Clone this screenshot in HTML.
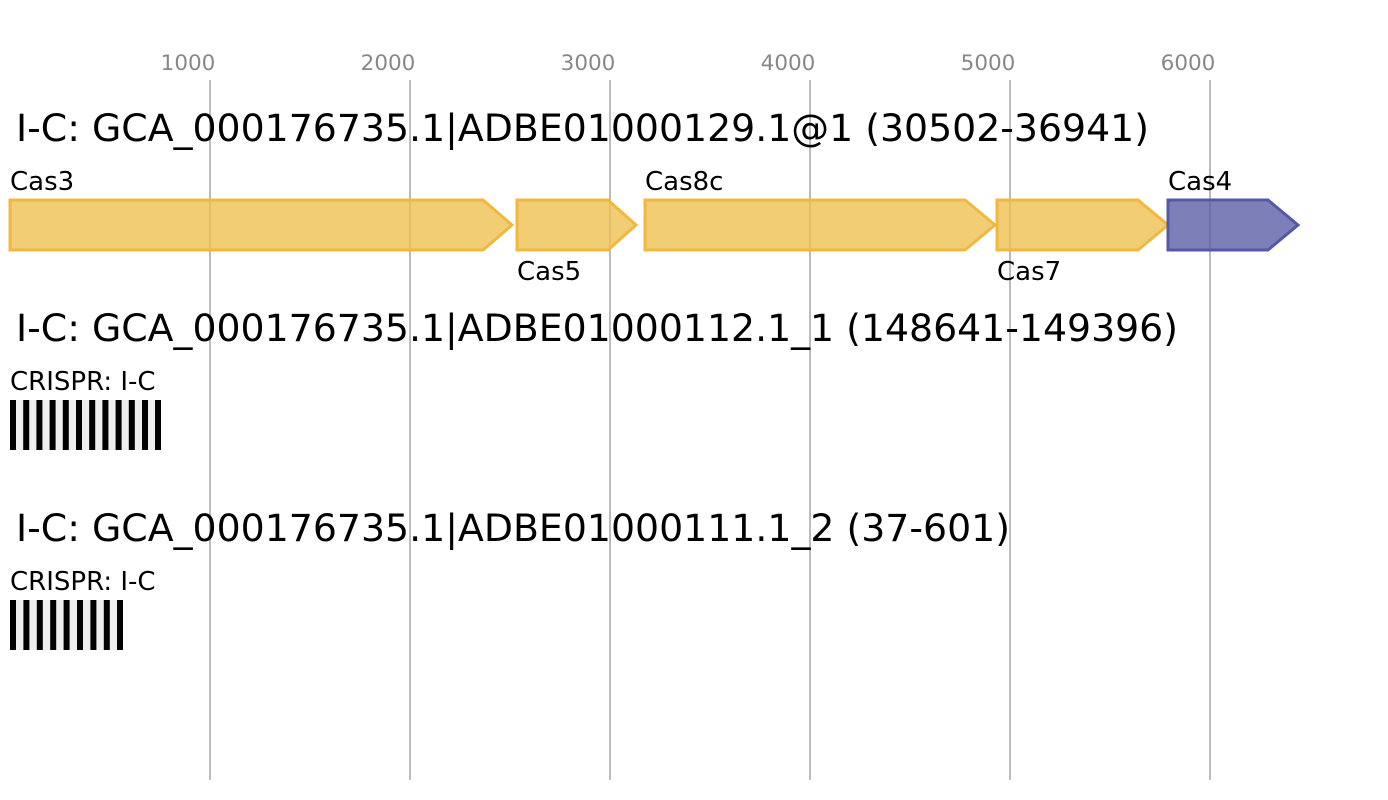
<!DOCTYPE html>
<html><head><style>body{margin:0;background:#fff}svg{display:block}text{font-family:"DejaVu Sans","Liberation Sans",sans-serif}</style></head><body>
<svg width="1388" height="800" xmlns="http://www.w3.org/2000/svg">
<g stroke="#bbb" stroke-width="2">
<line x1="210" y1="80" x2="210" y2="780"/><line x1="410" y1="80" x2="410" y2="780"/><line x1="610" y1="80" x2="610" y2="780"/><line x1="810" y1="80" x2="810" y2="780"/><line x1="1010" y1="80" x2="1010" y2="780"/><line x1="1210" y1="80" x2="1210" y2="780"/>
</g>
<g fill="#888" font-size="21.5" text-anchor="middle">
<text x="188" y="70">1000</text><text x="388" y="70">2000</text><text x="588" y="70">3000</text><text x="788" y="70">4000</text><text x="988" y="70">5000</text><text x="1188" y="70">6000</text>
</g>
<g font-size="37.8" fill="#000">
<text x="16" y="141" textLength="1133" lengthAdjust="spacingAndGlyphs">I-C: GCA_000176735.1|ADBE01000129.1@1 (30502-36941)</text>
<text x="16" y="341" textLength="1162" lengthAdjust="spacingAndGlyphs">I-C: GCA_000176735.1|ADBE01000112.1_1 (148641-149396)</text>
<text x="16" y="541" textLength="994" lengthAdjust="spacingAndGlyphs">I-C: GCA_000176735.1|ADBE01000111.1_2 (37-601)</text>
</g>
<g fill="#f0c050" fill-opacity="0.8" stroke="#f0b840" stroke-width="3">
<polygon points="10,200 483,200 512,225 483,250 10,250"/>
<polygon points="517,200 608,200 636,225 608,250 517,250"/>
<polygon points="645,200 965,200 995,225 965,250 645,250"/>
<polygon points="997,200 1138,200 1168,225 1138,250 997,250"/>
</g>
<polygon points="1168,200 1268,200 1298,225 1268,250 1168,250" fill="#5d5fa8" fill-opacity="0.8" stroke="#5558a8" stroke-width="3"/>
<g font-size="26" fill="#000">
<text x="10" y="190">Cas3</text><text x="517" y="280">Cas5</text><text x="645" y="190">Cas8c</text><text x="997" y="280">Cas7</text><text x="1168" y="190">Cas4</text>
<text x="10" y="390">CRISPR: I-C</text><text x="10" y="590">CRISPR: I-C</text>
</g>
<rect x="10" y="400" width="151" height="50" fill="#eee"/>
<g fill="#000">
<rect x="10" y="400" width="6" height="50"/><rect x="23.2" y="400" width="6" height="50"/><rect x="36.4" y="400" width="6" height="50"/><rect x="49.6" y="400" width="6" height="50"/><rect x="62.8" y="400" width="6" height="50"/><rect x="76" y="400" width="6" height="50"/><rect x="89.2" y="400" width="6" height="50"/><rect x="102.4" y="400" width="6" height="50"/><rect x="115.6" y="400" width="6" height="50"/><rect x="128.8" y="400" width="6" height="50"/><rect x="142" y="400" width="6" height="50"/><rect x="155" y="400" width="6" height="50"/>
</g>
<rect x="10" y="600" width="113" height="50" fill="#eee"/>
<g fill="#000">
<rect x="10" y="600" width="6" height="50"/><rect x="23.4" y="600" width="6" height="50"/><rect x="36.8" y="600" width="6" height="50"/><rect x="50.2" y="600" width="6" height="50"/><rect x="63.6" y="600" width="6" height="50"/><rect x="77" y="600" width="6" height="50"/><rect x="90.4" y="600" width="6" height="50"/><rect x="103.8" y="600" width="6" height="50"/><rect x="117" y="600" width="6" height="50"/>
</g>
</svg>
</body></html>
